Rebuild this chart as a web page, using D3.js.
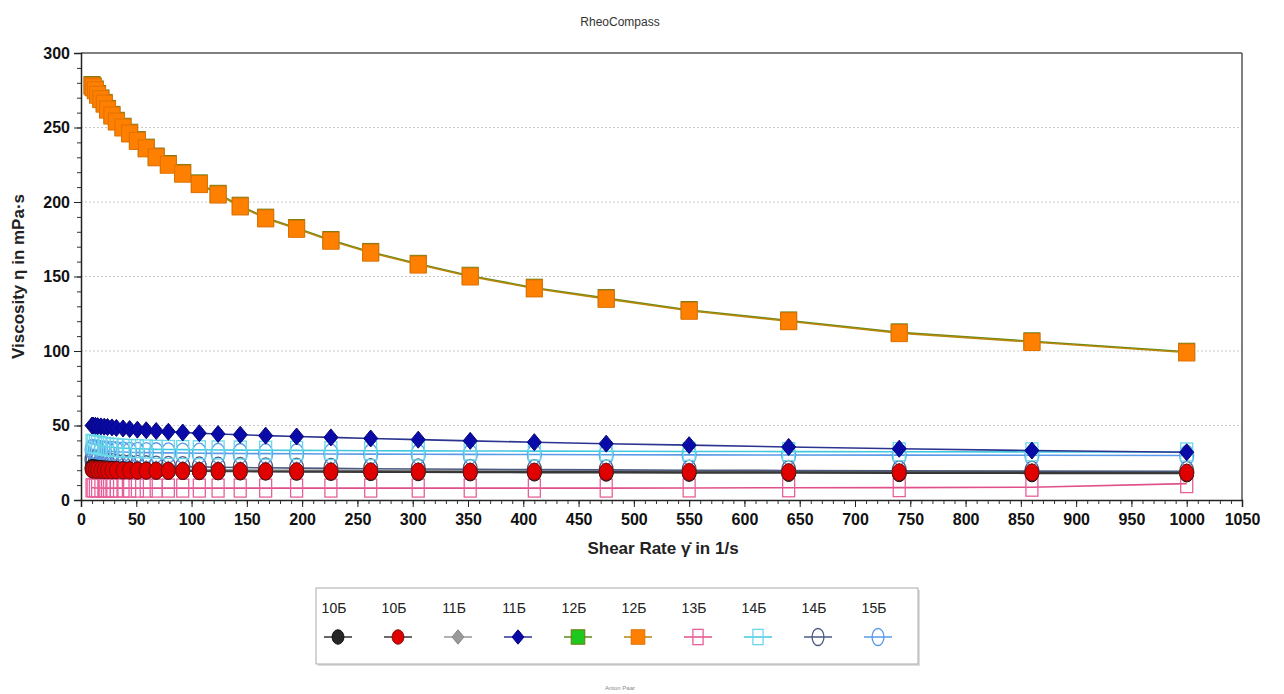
<!DOCTYPE html>
<html>
<head>
<meta charset="utf-8">
<script src="https://cdn.jsdelivr.net/npm/d3@7"></script>
<style>
  body { margin: 0; background: #fff; }
  svg { display: block; }
  .tick text { font-family: "Liberation Sans", Arial, sans-serif; font-weight: bold; font-size: 16px; fill: #111; }
</style>
</head>
<body>
<script>
// Shear rates (1/s)
const shearRates = [10, 11, 13, 15, 18, 21, 24, 28, 32, 38, 44, 51, 59, 68, 79, 92,
    107, 124, 144, 167, 195, 226, 262, 305, 352, 410, 475, 550, 640, 740, 860, 1000];

// Viscosity in mPa·s for each sample
const visc10a = [21.5, 21.4, 21.2, 21, 20.8, 20.6, 20.5, 20.3, 20.2, 20, 19.9, 19.8, 19.7, 19.6, 19.5, 19.4,
    19.3, 19.2, 19.1, 19, 18.9, 18.8, 18.7, 18.6, 18.5, 18.4, 18.3, 18.2, 18.1, 18, 17.9, 17.8];
const visc10b = [20.5, 20.4, 20.3, 20.2, 20.1, 20, 20, 19.9, 19.9, 19.8, 19.8, 19.7, 19.7, 19.6, 19.6, 19.5,
    19.5, 19.4, 19.4, 19.3, 19.3, 19.2, 19.2, 19.1, 19, 19, 18.9, 18.8, 18.7, 18.6, 18.5, 18.3];
const visc11a = [22, 21.9, 21.8, 21.7, 21.6, 21.5, 21.4, 21.3, 21.2, 21.1, 21, 20.9, 20.8, 20.7, 20.6, 20.5,
    20.4, 20.3, 20.2, 20.1, 20, 19.9, 19.8, 19.7, 19.6, 19.5, 19.4, 19.3, 19.2, 19.1, 19, 18.9];
const visc11b = [50, 50, 49.8, 49.6, 49.4, 49.2, 49, 48.7, 48.4, 48, 47.6, 47.2, 46.8, 46.3, 45.8, 45.3,
    44.8, 44.3, 43.8, 43.2, 42.6, 42, 41.3, 40.5, 39.7, 38.8, 37.8, 36.8, 35.6, 34.4, 33.2, 32];
const visc12a = [278.5, 277.5, 275.5, 272.5, 269.5, 266.5, 262.5, 258.5, 254.5, 250.5, 246.5, 241.5, 236.5, 230.5, 225.5, 219.5,
    212.5, 205.5, 197.5, 189.5, 182.5, 174.5, 166.5, 158.5, 150.5, 142.5, 135.5, 127.5, 120.5, 112.5, 106.5, 99.5];
const visc12b = [278, 277, 275, 272, 269, 266, 262, 258, 254, 250, 246, 241, 236, 230, 225, 219,
    212, 205, 197, 189, 182, 174, 166, 158, 150, 142, 135, 127, 120, 112, 106, 99];
const visc13 = [8.2, 8.2, 8.1, 8.1, 8.1, 8, 8, 8, 8, 8, 8, 8, 8, 8, 8, 8,
    8, 8, 8, 8, 8, 8, 8, 8, 8, 8, 8, 8.1, 8.2, 8.3, 8.6, 11];
const visc14a = [38, 37.6, 37.2, 36.8, 36.4, 36, 35.7, 35.4, 35.1, 34.8, 34.6, 34.4, 34.2, 34, 33.9, 33.8,
    33.7, 33.6, 33.5, 33.4, 33.3, 33.2, 33.1, 33, 32.9, 32.8, 32.7, 32.6, 32.5, 32.4, 32.3, 32.2];
const visc14b = [27, 26.6, 26.2, 25.8, 25.4, 25, 24.7, 24.4, 24.1, 23.8, 23.5, 23.2, 23, 22.8, 22.6, 22.4,
    22.2, 22, 21.8, 21.6, 21.4, 21.2, 21, 20.8, 20.6, 20.4, 20.2, 20, 19.8, 19.6, 19.4, 19.2];
const visc15 = [34, 33.8, 33.6, 33.4, 33.2, 33, 32.8, 32.6, 32.4, 32.2, 32, 31.9, 31.8, 31.7, 31.6, 31.5,
    31.4, 31.3, 31.2, 31.1, 31, 30.9, 30.8, 30.7, 30.6, 30.5, 30.4, 30.3, 30.2, 30.1, 30, 29.9];

const seriesNames = ["10Б", "10Б", "11Б", "11Б", "12Б", "12Б", "13Б", "14Б", "14Б", "15Б"];
const xTicks = d3.range(0, 1051, 50);
const yTicks = [0, 50, 100, 150, 200, 250, 300];

// drawing order and look of each series (legend order is index order)
const series = [
    {name: seriesNames[0], values: visc10a, shape: "circle", fill: "#262626", stroke: "#111", line: "#333"},
    {name: seriesNames[1], values: visc10b, shape: "circle", fill: "#e00000", stroke: "#7a1010", line: "#3a3a3a"},
    {name: seriesNames[2], values: visc11a, shape: "diamond", fill: "#9a9a9a", stroke: "#888", line: "#999"},
    {name: seriesNames[3], values: visc11b, shape: "diamond", fill: "#0a0aa8", stroke: "#06067a", line: "#2b3590"},
    {name: seriesNames[4], values: visc12a, shape: "square", fill: "#1ec81e", stroke: "#6b7a10", line: "#5a8a1a"},
    {name: seriesNames[5], values: visc12b, shape: "square", fill: "#ff8000", stroke: "#e07000", line: "#b8860b"},
    {name: seriesNames[6], values: visc13, shape: "square", fill: "none", stroke: "#e8609a", line: "#e0508a"},
    {name: seriesNames[7], values: visc14a, shape: "square", fill: "none", stroke: "#6ad8ea", line: "#40c8e0"},
    {name: seriesNames[8], values: visc14b, shape: "ellipse", fill: "none", stroke: "#4a5a80", line: "#4a5a80"},
    {name: seriesNames[9], values: visc15, shape: "ellipse", fill: "none", stroke: "#5a9ae8", line: "#5a9ae8"}
];
const drawOrder = [2, 8, 9, 7, 6, 0, 1, 3, 4, 5];

const W = 1284, H = 694;
const margin = {left: 81, right: 42, top: 53, bottom: 194};
const svg = d3.select("body").append("svg").attr("width", W).attr("height", H);

const x = d3.scaleLinear().domain([0, 1050]).range([margin.left, W - margin.right]);
const y = d3.scaleLinear().domain([0, 300]).range([H - margin.bottom, margin.top]);

// title
svg.append("text").attr("x", 620).attr("y", 26).attr("text-anchor", "middle")
    .style("font-family", "Liberation Sans, Arial, sans-serif").style("font-size", "12px").style("fill", "#333")
    .text("RheoCompass");

// grid
svg.append("g").selectAll("line").data(yTicks.filter(d => d > 0 && d < 300)).join("line")
    .attr("x1", x(0)).attr("x2", x(1050)).attr("y1", d => y(d)).attr("y2", d => y(d))
    .attr("stroke", "#c8c8c8").attr("stroke-dasharray", "2,2");

// frame: top and right
svg.append("line").attr("x1", x(0)).attr("x2", x(1050)).attr("y1", y(300)).attr("y2", y(300))
    .attr("stroke", "#555").attr("stroke-width", 1.5);
svg.append("line").attr("x1", x(1050)).attr("x2", x(1050)).attr("y1", y(300)).attr("y2", y(0))
    .attr("stroke", "#555").attr("stroke-width", 1.5);

// minor ticks
svg.append("g").attr("transform", `translate(0,${y(0)})`)
    .call(d3.axisBottom(x).tickValues(d3.range(0, 1051, 10)).tickSize(4).tickFormat(""))
    .call(g => g.select(".domain").remove())
    .call(g => g.selectAll("line").attr("stroke", "#333"));
svg.append("g").attr("transform", `translate(${x(0)},0)`)
    .call(d3.axisLeft(y).tickValues(d3.range(0, 301, 10)).tickSize(4).tickFormat(""))
    .call(g => g.select(".domain").remove())
    .call(g => g.selectAll("line").attr("stroke", "#333"));

// major axes
svg.append("g").attr("transform", `translate(0,${y(0)})`)
    .call(d3.axisBottom(x).tickValues(xTicks).tickFormat(d3.format("d")).tickSize(7).tickPadding(7))
    .call(g => g.select(".domain").attr("stroke", "#222").attr("stroke-width", 1.5))
    .call(g => g.selectAll(".tick line").attr("stroke", "#222"));
svg.append("g").attr("transform", `translate(${x(0)},0)`)
    .call(d3.axisLeft(y).tickValues(yTicks).tickSize(7).tickPadding(4))
    .call(g => g.select(".domain").attr("stroke", "#222").attr("stroke-width", 1.5))
    .call(g => g.selectAll(".tick line").attr("stroke", "#222"));

// axis titles
svg.append("text").attr("transform", `translate(24,${(y(0) + y(300)) / 2}) rotate(-90)`)
    .attr("text-anchor", "middle")
    .style("font-family", "Liberation Sans, Arial, sans-serif").style("font-weight", "bold")
    .style("font-size", "17px").style("fill", "#222")
    .text("Viscosity η in mPa·s");
svg.append("text").attr("x", 663).attr("y", 554).attr("text-anchor", "middle")
    .style("font-family", "Liberation Sans, Arial, sans-serif").style("font-weight", "bold")
    .style("font-size", "17px").style("fill", "#222")
    .text("Shear Rate γ\u0307 in 1/s");

function drawMarker(sel, s, scale) {
    const k = scale || 1;
    if (s.shape === "circle") {
        sel.append("ellipse").attr("rx", 7 * k).attr("ry", 8.5 * k);
    } else if (s.shape === "ellipse") {
        sel.append("ellipse").attr("rx", 7 * k).attr("ry", 10 * k);
    } else if (s.shape === "diamond") {
        sel.append("path").attr("d", `M0,${-8.5 * k}L${7 * k},0L0,${8.5 * k}L${-7 * k},0Z`);
    } else {
        const w = (s.fill === "none" ? 6 : 8) * k, h = (s.fill === "none" ? 9 : 8.5) * k;
        sel.append("rect").attr("x", -w).attr("y", -h).attr("width", 2 * w).attr("height", 2 * h);
    }
    sel.selectAll("*").attr("fill", s.fill).attr("stroke", s.stroke)
        .attr("stroke-width", s.fill === "none" ? 1.3 : 1);
}

const line = d3.line().x(d => x(d[0])).y(d => y(d[1]));
const plot = svg.append("g");

drawOrder.forEach(i => {
    const s = series[i];
    const pts = shearRates.map((r, j) => [r, s.values[j]]);
    const g = plot.append("g");
    g.append("path").datum(pts).attr("d", line).attr("fill", "none")
        .attr("stroke", s.line).attr("stroke-width", 1.6);
    g.selectAll("g.m").data(pts).join("g").attr("class", "m")
        .attr("transform", d => `translate(${x(d[0])},${y(d[1])})`)
        .each(function() { drawMarker(d3.select(this), s); });
});

// legend
const lg = svg.append("g").attr("transform", "translate(316,588)");
lg.append("rect").attr("x", 2).attr("y", 2).attr("width", 602).attr("height", 76).attr("fill", "#ddd");
lg.append("rect").attr("width", 602).attr("height", 76).attr("fill", "#fff").attr("stroke", "#aaa");
series.forEach((s, i) => {
    const cx = 22 + i * 60;
    lg.append("text").attr("x", cx - 4).attr("y", 25).attr("text-anchor", "middle")
        .style("font-family", "Liberation Sans, Arial, sans-serif").style("font-size", "14px").style("fill", "#222")
        .text(s.name);
    lg.append("line").attr("x1", cx - 14).attr("x2", cx + 14).attr("y1", 49).attr("y2", 49)
        .attr("stroke", s.line).attr("stroke-width", 1.5);
    const m = lg.append("g").attr("transform", `translate(${cx},49)`);
    drawMarker(m, s, 0.85);
});

svg.append("text").attr("x", 620).attr("y", 690).attr("text-anchor", "middle")
    .style("font-family", "Liberation Sans, Arial, sans-serif").style("font-size", "6px").style("fill", "#888")
    .text("Anton Paar");
</script>
</body>
</html>
